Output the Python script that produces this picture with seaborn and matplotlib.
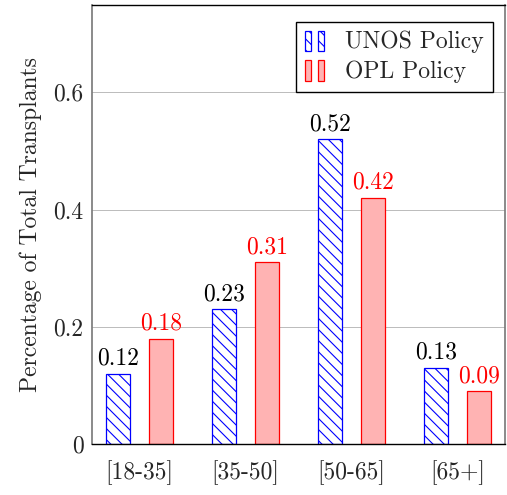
import matplotlib
matplotlib.use('Agg')
import matplotlib.pyplot as plt
import seaborn as sns
import pandas as pd
from matplotlib.legend_handler import HandlerBase
from matplotlib.patches import Rectangle

categories = ['[18-35]', '[35-50]', '[50-65]', '[65+]']
unos = [0.12, 0.23, 0.52, 0.13]
opl = [0.18, 0.31, 0.42, 0.09]
series = ['UNOS Policy', 'OPL Policy']
yticks = [0, 0.2, 0.4, 0.6]
ytick_labels = ['0', '0.2', '0.4', '0.6']

df = pd.DataFrame({
    'age': categories * 2,
    'value': unos + opl,
    'policy': [series[0]] * len(unos) + [series[1]] * len(opl),
})

sns.set_style('white')
plt.rcParams['font.family'] = ['cmr10']
plt.rcParams['mathtext.fontset'] = 'cm'
plt.rcParams['axes.formatter.use_mathtext'] = True
plt.rcParams['hatch.linewidth'] = 0.8

FS = 17

fig = plt.figure(figsize=(5.07, 4.95), dpi=100)
ax = fig.add_axes([92 / 507, 51 / 495, 413 / 507, 439.5 / 495])
sns.barplot(data=df, x='age', y='value', hue='policy', hue_order=series,
            order=categories, width=0.81, gap=0.44, errorbar=None,
            palette=['white', '#ffb3b3'], legend=False, ax=ax)

for p in ax.containers[0]:
    p.set_facecolor('white')
    p.set_edgecolor('blue')
    p.set_hatch('\\\\\\')
    p.set_linewidth(0.9)
for p in ax.containers[1]:
    p.set_facecolor('#ffb3b3')
    p.set_edgecolor('#ff0000')
    p.set_linewidth(0.9)

ax.bar_label(ax.containers[0], labels=[f'{v:.2f}' for v in unos], padding=3,
             fontsize=FS, color='black')
ax.bar_label(ax.containers[1], labels=[f'{v:.2f}' for v in opl], padding=3,
             fontsize=FS, color='red')

ax.set_xlim(-0.45, 3.45)
ax.set_ylim(0, 0.75)
ax.set_yticks(yticks)
ax.set_yticklabels(ytick_labels)
ax.tick_params(axis='both', labelsize=FS, length=0)
ax.tick_params(axis='y', pad=6)
ax.tick_params(axis='x', pad=12)
ax.set_xlabel('')
ax.set_ylabel('Percentage of Total Transplants', fontsize=FS, labelpad=8)
ax.yaxis.grid(True, color='#bbbbbb', linewidth=0.7)
ax.set_axisbelow(True)
for s in ['top', 'bottom']:
    ax.spines[s].set_color('black')
    ax.spines[s].set_linewidth(1.0)
for s in ['left', 'right']:
    ax.spines[s].set_color('#777777')
    ax.spines[s].set_linewidth(1.2)


class TwoBars(HandlerBase):
    def create_artists(self, legend, orig_handle, xdescent, ydescent,
                       width, height, fontsize, trans):
        arts = []
        bw = width * 0.28
        for x0 in (0, width * 0.66):
            r = Rectangle((x0 - xdescent, -ydescent - 2), bw, height + 3,
                          facecolor=orig_handle.get_facecolor(),
                          edgecolor=orig_handle.get_edgecolor(),
                          hatch=orig_handle.get_hatch(),
                          linewidth=orig_handle.get_linewidth(),
                          transform=trans)
            arts.append(r)
        return arts


h1 = ax.containers[0][0]
h2 = ax.containers[1][0]
leg = ax.legend([h1, h2], series, loc='upper right',
                bbox_to_anchor=((493 - 92) / 413, (444 - 22) / 439.5),
                borderaxespad=0, fontsize=FS, frameon=True, fancybox=False,
                edgecolor='black', framealpha=1, handlelength=0.85,
                handletextpad=0.85, labelspacing=0.3, borderpad=0.38,
                handler_map={Rectangle: TwoBars()})
leg.get_frame().set_linewidth(1.0)

fig.savefig('out.png', dpi=100)
